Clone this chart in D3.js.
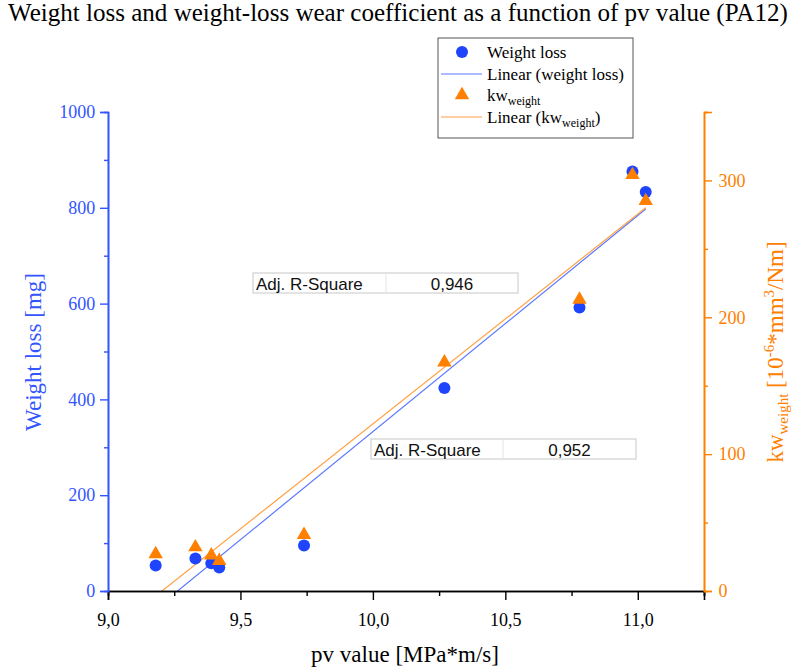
<!DOCTYPE html>
<html>
<head>
<meta charset="utf-8">
<script src="https://cdn.jsdelivr.net/npm/d3@7"></script>
<style>
  body { margin: 0; background: #fff; }
  svg { display: block; }
  .serif { font-family: "Liberation Serif", "Times New Roman", serif; }
  .sans { font-family: "Liberation Sans", Arial, sans-serif; }
</style>
</head>
<body>
<div id="chart"></div>
<script>
// data
const pvValues = [9.18, 9.33, 9.39, 9.42, 9.74, 10.27, 10.78, 10.98, 11.03];
const weightLoss = [53, 68, 58, 49, 95, 424, 592, 876, 833];
const kwWeight = [27, 32, 26, 22, 41, 167, 213, 304, 285];
const adjR2 = ["0,946", "0,952"];
const xTicks = [9.0, 9.5, 10.0, 10.5, 11.0];
const leftTicks = [0, 200, 400, 600, 800, 1000];
const rightTicks = [0, 100, 200, 300];

const width = 795;
const height = 672;
const blue = "#1f45fc";
const blueAxis = "#3355ff";
const orange = "#ff8000";

const plotLeft = 108, plotRight = 704, plotTop = 112, plotBottom = 591;

const svg = d3.select("#chart")
    .append("svg")
    .attr("width", width)
    .attr("height", height);

const x = d3.scaleLinear().domain([9.0, 11.25]).range([plotLeft, plotRight]);
const yL = d3.scaleLinear().domain([0, 1000]).range([plotBottom, plotTop]);
const yR = d3.scaleLinear().domain([0, 350]).range([plotBottom, plotTop]);

const comma = d3.formatLocale({ decimal: ",", thousands: ".", grouping: [3], currency: ["", ""] }).format(".1f");

// title, sized to span the width like the original
const title = svg.append("text")
    .attr("class", "serif")
    .attr("x", 8).attr("y", 21)
    .attr("font-size", 21)
    .text("Weight loss and weight-loss wear coefficient as a function of pv value (PA12)");
const tw = title.node().getComputedTextLength();
title.attr("font-size", 21 * 780 / tw);

// clip for fit lines
svg.append("clipPath").attr("id", "plotClip")
    .append("rect").attr("x", plotLeft).attr("y", plotTop)
    .attr("width", plotRight - plotLeft).attr("height", plotBottom - plotTop);

function linearFit(xs, ys) {
    const mx = d3.mean(xs), my = d3.mean(ys);
    let sxy = 0, sxx = 0;
    xs.forEach((v, i) => { sxy += (v - mx) * (ys[i] - my); sxx += (v - mx) * (v - mx); });
    const slope = sxy / sxx;
    return v => my + slope * (v - mx);
}

const xr = d3.extent(pvValues);
const fitBlue = linearFit(pvValues, weightLoss);
const fitOrange = linearFit(pvValues, kwWeight);

const fits = svg.append("g").attr("clip-path", "url(#plotClip)");
fits.append("line")
    .attr("x1", x(xr[0])).attr("y1", yL(fitBlue(xr[0])))
    .attr("x2", x(xr[1])).attr("y2", yL(fitBlue(xr[1])))
    .attr("stroke", "#5a78ff").attr("stroke-width", 1.2);
fits.append("line")
    .attr("x1", x(xr[0])).attr("y1", yR(fitOrange(xr[0])))
    .attr("x2", x(xr[1])).attr("y2", yR(fitOrange(xr[1])))
    .attr("stroke", "#ffa040").attr("stroke-width", 1.2);

// x axis
const xAxis = svg.append("g")
    .attr("transform", `translate(0,${plotBottom})`)
    .call(d3.axisBottom(x).tickValues(d3.range(9.25, 11.3, 0.5)).tickSize(5).tickFormat(""));
xAxis.append("g").call(d3.axisBottom(x).tickValues(xTicks).tickSize(9).tickFormat(comma));
xAxis.select("g").select(".domain").remove();
xAxis.selectAll(".domain").attr("stroke", "#000").attr("stroke-width", 1.6);
xAxis.selectAll(".tick line").attr("stroke", "#000").attr("stroke-width", 1.4);
xAxis.selectAll("text").attr("class", "serif").attr("font-size", 18).attr("fill", "#000").attr("dy", "1.3em");

svg.append("text").attr("class", "serif")
    .attr("x", 405).attr("y", 662)
    .attr("text-anchor", "middle").attr("font-size", 23)
    .text("pv value [MPa*m/s]");

// left axis
const yAxisL = svg.append("g")
    .attr("transform", `translate(${plotLeft},0)`)
    .call(d3.axisLeft(yL).tickValues(d3.range(100, 1000, 200)).tickSize(4).tickFormat(""));
yAxisL.append("g").call(d3.axisLeft(yL).tickValues(leftTicks).tickSize(8).tickFormat(d => d));
yAxisL.select("g").select(".domain").remove();
yAxisL.selectAll(".domain").attr("stroke", blueAxis).attr("stroke-width", 1.6);
yAxisL.selectAll(".tick line").attr("stroke", blueAxis).attr("stroke-width", 1.4);
yAxisL.selectAll("text").attr("class", "serif").attr("font-size", 18).attr("fill", blueAxis).attr("dx", "-0.1em");

svg.append("text").attr("class", "serif")
    .attr("transform", "translate(41,352) rotate(-90)")
    .attr("text-anchor", "middle").attr("font-size", 23)
    .attr("fill", blueAxis)
    .text("Weight loss [mg]");

// right axis
const yAxisR = svg.append("g")
    .attr("transform", `translate(${plotRight},0)`)
    .call(d3.axisRight(yR).tickValues(d3.range(50, 351, 100)).tickSize(4).tickFormat(""));
yAxisR.append("g").call(d3.axisRight(yR).tickValues(rightTicks).tickSize(8).tickFormat(d => d));
yAxisR.select("g").select(".domain").remove();
yAxisR.selectAll(".domain").attr("stroke", orange).attr("stroke-width", 1.6);
yAxisR.selectAll(".tick line").attr("stroke", orange).attr("stroke-width", 1.4);
yAxisR.selectAll("text").attr("class", "serif").attr("font-size", 18).attr("fill", orange).attr("dx", "0.2em");

const rLabel = svg.append("text").attr("class", "serif")
    .attr("transform", "translate(783,352) rotate(-90)")
    .attr("text-anchor", "middle").attr("font-size", 23)
    .attr("fill", orange);
rLabel.append("tspan").text("kw");
rLabel.append("tspan").attr("font-size", 15).attr("dy", 5).text("weight");
rLabel.append("tspan").attr("dy", -5).text(" [10");
rLabel.append("tspan").attr("font-size", 15).attr("dy", -9).text("-6");
rLabel.append("tspan").attr("dy", 9).text("*mm");
rLabel.append("tspan").attr("font-size", 15).attr("dy", -9).text("3");
rLabel.append("tspan").attr("dy", 9).text("/Nm]");

// points
svg.append("g").selectAll("circle")
    .data(pvValues)
    .enter().append("circle")
    .attr("cx", d => x(d))
    .attr("cy", (d, i) => yL(weightLoss[i]))
    .attr("r", 6)
    .attr("fill", blue);

svg.append("g").selectAll("path")
    .data(pvValues)
    .enter().append("path")
    .attr("d", d3.symbol(d3.symbolTriangle, 90))
    .attr("transform", (d, i) => `translate(${x(d)},${yR(kwWeight[i])})`)
    .attr("fill", orange);

// Adj. R-Square boxes
const boxes = [
    { x: 253, y: 273, w: 265, split: 133, value: adjR2[0] },
    { x: 371, y: 439, w: 265, split: 132, value: adjR2[1] }
];
boxes.forEach(b => {
    const g = svg.append("g").attr("transform", `translate(${b.x},${b.y})`);
    g.append("rect").attr("width", b.w).attr("height", 20)
        .attr("fill", "#fff").attr("stroke", "#c8c8c8").attr("stroke-width", 1);
    g.append("line").attr("x1", b.split).attr("x2", b.split).attr("y1", 0).attr("y2", 20)
        .attr("stroke", "#e4e4e4");
    g.append("text").attr("class", "sans").attr("x", 3).attr("y", 16.5)
        .attr("font-size", 17).attr("fill", "#111").text("Adj. R-Square");
    g.append("text").attr("class", "sans").attr("x", (b.split + b.w) / 2).attr("y", 16.5)
        .attr("text-anchor", "middle").attr("font-size", 17).attr("fill", "#111").text(b.value);
});

// legend
const legend = svg.append("g").attr("transform", "translate(438,38)");
legend.append("rect").attr("width", 195).attr("height", 100)
    .attr("fill", "#fff").attr("stroke", "#555").attr("stroke-width", 1);
const rows = [14, 36, 57, 79];
legend.append("circle").attr("cx", 24).attr("cy", rows[0]).attr("r", 6).attr("fill", blue);
legend.append("line").attr("x1", 3).attr("x2", 44).attr("y1", rows[1]).attr("y2", rows[1])
    .attr("stroke", "#5a78ff").attr("stroke-width", 1.2);
legend.append("path").attr("d", d3.symbol(d3.symbolTriangle, 90))
    .attr("transform", `translate(24,${rows[2]})`).attr("fill", orange);
legend.append("line").attr("x1", 3).attr("x2", 44).attr("y1", rows[3]).attr("y2", rows[3])
    .attr("stroke", "#ffa040").attr("stroke-width", 1.2);

const lt = (i) => legend.append("text").attr("class", "serif")
    .attr("x", 49).attr("y", rows[i] + 6).attr("font-size", 17).attr("fill", "#000");
lt(0).text("Weight loss");
lt(1).text("Linear (weight loss)");
const l2 = lt(2);
l2.append("tspan").text("kw");
l2.append("tspan").attr("font-size", 12).attr("dy", 4).text("weight");
const l3 = lt(3);
l3.append("tspan").text("Linear (kw");
l3.append("tspan").attr("font-size", 12).attr("dy", 4).text("weight");
l3.append("tspan").attr("dy", -4).text(")");
</script>
</body>
</html>
